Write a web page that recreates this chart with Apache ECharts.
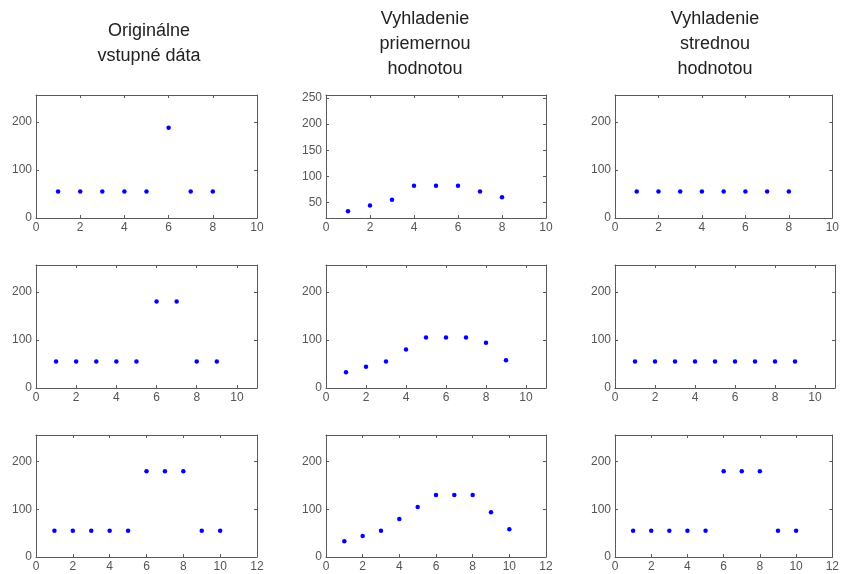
<!DOCTYPE html>
<html>
<head>
<meta charset="utf-8">
<script src="https://cdn.jsdelivr.net/npm/echarts@6/dist/echarts.min.js"></script>
<style>
html,body{margin:0;padding:0;background:#fff;}
#chart{width:842px;height:574px;}
</style>
</head>
<body>
<div id="chart"></div>
<script>
// ---- Data ----
const columnTitles = ['Originálne\nvstupné dáta', 'Vyhladenie\npriemernou\nhodnotou', 'Vyhladenie\nstrednou\nhodnotou'];

const original1 = [55, 55, 55, 55, 55, 188, 55, 55];
const original2 = [55, 55, 55, 55, 55, 180, 180, 55, 55];
const original3 = [55, 55, 55, 55, 55, 180, 180, 180, 55, 55];

const mean1 = [33, 44, 55, 82, 82, 82, 71, 60];
const mean2 = [33, 44, 55, 80, 105, 105, 105, 94, 58];
const mean3 = [33, 44, 55, 80, 105, 130, 130, 130, 94, 58];

const median1 = [55, 55, 55, 55, 55, 55, 55, 55];
const median2 = [55, 55, 55, 55, 55, 55, 55, 55, 55];
const median3 = [55, 55, 55, 55, 55, 180, 180, 180, 55, 55];

const xMaxByRow = [10, 11, 12];
const xTicksByRow = [[0, 2, 4, 6, 8, 10], [0, 2, 4, 6, 8, 10], [0, 2, 4, 6, 8, 10, 12]];
const yTicksDefault = [0, 100, 200];
const yTicksMeanTop = [50, 100, 150, 200, 250];

// panels[row][col]
const panels = [
  [original1, mean1, median1],
  [original2, mean2, median2],
  [original3, mean3, median3]
];

// ---- Layout ----
const colLeft = [36, 326, 615];
const colWidth = [221, 220, 220];
const rowTop = [95, 265, 435];
const rowHeight = [123, 123, 122];
const titleCenter = [149, 425, 715];
const titleTop = [19, 7, 7];

const axisColor = '#5a5a5a';
const labelStyle = {fontSize: 12, color: '#555', fontFamily: 'Liberation Sans, Arial, sans-serif'};

const grid = [], xAxis = [], yAxis = [], series = [], title = [];

columnTitles.forEach((t, c) => {
  title.push({
    text: t, left: titleCenter[c], top: titleTop[c], textAlign: 'center', padding: 0,
    textStyle: {fontSize: 18, fontWeight: 'normal', lineHeight: 25, color: '#222',
      fontFamily: 'Liberation Sans, Arial, sans-serif'}
  });
});

let gi = 0;
for (let r = 0; r < 3; r++) {
  for (let c = 0; c < 3; c++) {
    grid.push({left: colLeft[c], top: rowTop[r], width: colWidth[c], height: rowHeight[r], containLabel: false});
    const isMeanTop = (r === 0 && c === 1);
    const yMin = isMeanTop ? 20 : 0;
    const yMax = 256;
    const yTicks = isMeanTop ? yTicksMeanTop : yTicksDefault;
    const xTicks = xTicksByRow[r];
    const xMax = xMaxByRow[r];
    const baseX = {
      type: 'value', gridIndex: gi, min: 0, max: xMax,
      axisLine: {show: true, onZero: false, lineStyle: {color: axisColor, width: 1}},
      axisTick: {show: true, inside: true, length: 3, customValues: xTicks, lineStyle: {color: axisColor}},
      splitLine: {show: false}
    };
    xAxis.push(Object.assign({}, baseX, {
      position: 'bottom',
      axisLabel: Object.assign({show: true, margin: 4, customValues: xTicks}, labelStyle)
    }));
    xAxis.push(Object.assign({}, baseX, {
      position: 'top',
      axisLabel: {show: false}
    }));
    const baseY = {
      type: 'value', gridIndex: gi, min: yMin, max: yMax,
      axisLine: {show: true, onZero: false, lineStyle: {color: axisColor, width: 1}},
      axisTick: {show: true, inside: true, length: 3, customValues: yTicks, lineStyle: {color: axisColor}},
      splitLine: {show: false}
    };
    yAxis.push(Object.assign({}, baseY, {
      position: 'left',
      axisLabel: Object.assign({show: true, margin: 4, customValues: yTicks}, labelStyle)
    }));
    yAxis.push(Object.assign({}, baseY, {
      position: 'right',
      axisLabel: {show: false}
    }));
    const vals = panels[r][c];
    series.push({
      type: 'scatter',
      xAxisIndex: gi * 2,
      yAxisIndex: gi * 2,
      symbol: 'circle',
      symbolSize: 4.5,
      itemStyle: {color: '#0000ff', opacity: 1},
      data: vals.map((v, i) => [i + 1, v])
    });
    gi++;
  }
}

const chart = echarts.init(document.getElementById('chart'), null, {renderer: 'canvas'});
chart.setOption({
  backgroundColor: '#ffffff',
  animation: false,
  title, grid, xAxis, yAxis, series
});
</script>
</body>
</html>
